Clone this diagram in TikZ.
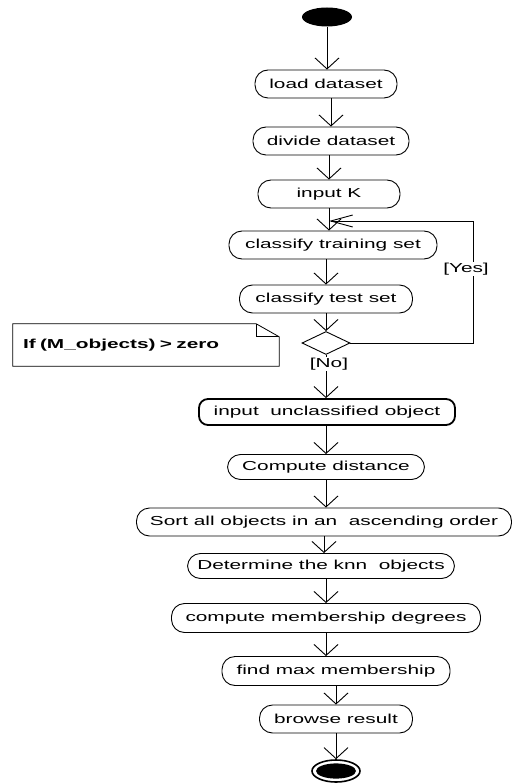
\documentclass[tikz,border=0pt]{standalone}
\usepackage{fontspec}
\setmainfont{Liberation Sans}[FakeStretch=1.6]
\usetikzlibrary{arrows.meta,shapes.geometric,calc}

\begin{document}
\begin{tikzpicture}[x=1pt,y=-1pt,
  every node/.style={font=\fontsize{13}{15}\selectfont},
  act/.style={draw, line width=0.9pt, rounded corners=13pt, inner sep=0pt,
    minimum height=28pt},
  inbox/.style={draw, line width=1.8pt, rounded corners=9pt, inner sep=0pt,
    minimum height=26pt},
  startdot/.style={ellipse, fill=black, inner sep=0pt,
    minimum width=50pt, minimum height=19pt},
  enddot/.style={ellipse, draw, line width=1.6pt, inner sep=0pt,
    minimum width=48pt, minimum height=22pt,
    path picture={\fill (path picture bounding box.center) ellipse (20pt and 7.6pt);}},
  choice/.style={diamond, draw, line width=0.9pt, aspect=2, inner sep=0pt,
    minimum width=48pt, minimum height=23pt},
  guard/.style={fill=white, inner sep=1pt},
  arr/.style={line width=0.9pt, -{Straight Barb[length=11pt,width=24pt,line width=0.9pt]}},
  harr/.style={line width=0.9pt, -{Straight Barb[length=22pt,width=12pt,line width=0.9pt]}},
  notebox/.style={text width=246pt, inner xsep=10pt, inner ysep=0pt,
    minimum height=42pt, align=left, font=\fontsize{13}{15}\selectfont\bfseries}
]
\useasboundingbox (0,0) rectangle (516,783);

% activities
\node[startdot] (start) at (327,17) {};
\node[act, minimum width=142pt] (load)    at (326,84)  {load dataset};
\node[act, minimum width=156pt] (divide)  at (331,141) {divide dataset};
\node[act, minimum width=142pt] (inputK)  at (329,194) {input K};
\node[act, minimum width=208pt] (train)   at (333,245) {classify training set};
\node[act, minimum width=173pt] (test)    at (326,299) {classify test set};
\node[choice] (dec) at (326,343) {};
\node[inbox, minimum width=256pt] (unclass) at (327,412) {input\ \ unclassified object};
\node[act, minimum width=197pt, minimum height=25pt] (dist) at (326,467) {Compute distance};
\node[act, minimum width=375pt] (sort)    at (324,522) {Sort all objects in an\ \ ascending order};
\node[act, minimum width=267pt, minimum height=25pt] (knn) at (321,566) {Determine the knn\ \ objects};
\node[act, minimum width=309pt, minimum height=29pt] (member) at (326,618) {compute membership degrees};
\node[act, minimum width=228pt, minimum height=29pt] (findmax) at (336,671) {find max membership};
\node[act, minimum width=153pt] (browse)  at (336,719) {browse result};
\node[enddot] (end) at (336,771) {};

% note with folded corner
\node[notebox] (note) at (146,345) {If (M\_objects) > zero};
\draw[line width=0.8pt]
  (note.north west) -- ($(note.north east)+(-23,0)$) -- ($(note.north east)+(0,13)$)
  -- (note.south east) -- (note.south west) -- cycle;
\draw[line width=0.8pt]
  ($(note.north east)+(-23,0)$) |- ($(note.north east)+(0,13)$);

% control flow
\draw[arr] (start.south) -- (start.south |- load.north);
\draw[arr] (load.south -| divide) -- (divide.north);
\draw[arr] (divide.south -| inputK) -- (inputK.north);
\draw[arr] (inputK.south) -- (inputK.south |- train.north);
\draw[arr] (train.south -| test) -- (test.north);
\draw[arr] (test.south) -- (dec.north);
\draw[arr] (dec.south) -- (dec.south |- unclass.north);
\draw[arr] (unclass.south -| dist) -- (dist.north);
\draw[arr] (dist.south) -- (dist.south |- sort.north);
\draw[arr] (sort.south) -- (sort.south |- knn.north);
\draw[arr] (knn.south -| member) -- (member.north);
\draw[arr] (member.south) -- (member.south |- findmax.north);
\draw[arr] (findmax.south) -- (browse.north);
\draw[arr] (browse.south) -- (end.north);

% loop back while objects remain
\coordinate (loopturn) at (473,221);
\draw[harr] (dec.east) -| (loopturn) -- (inputK.south |- loopturn);

% guards
\node[guard] (yes) at (466,269) {[Yes]};
\node[guard] (no)  at (329,364) {[No]};
\end{tikzpicture}
\end{document}
